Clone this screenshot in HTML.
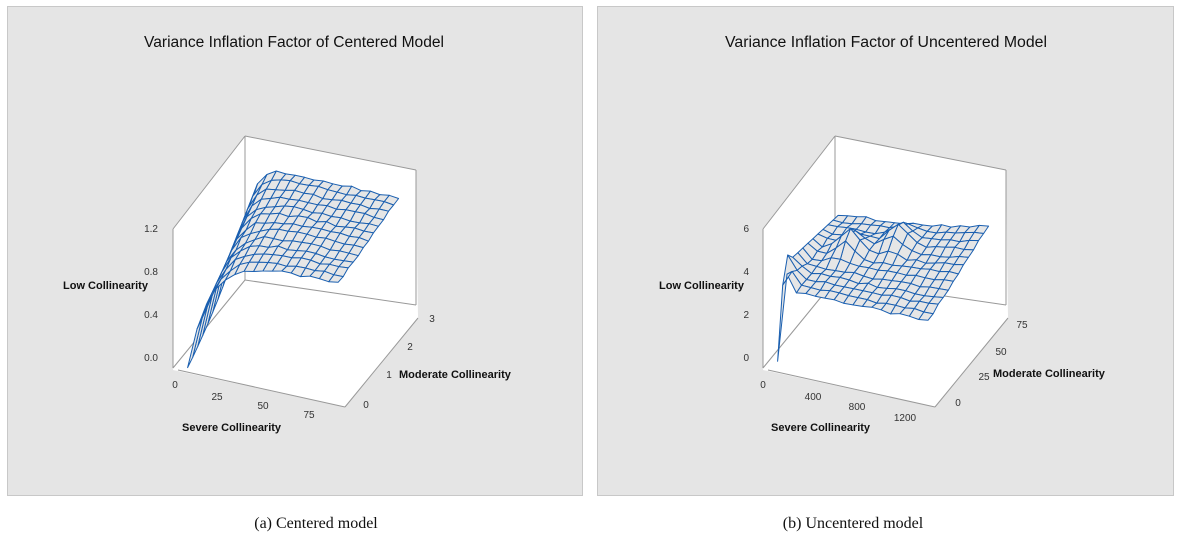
<!DOCTYPE html>
<html><head><meta charset="utf-8"><style>
body{margin:0;background:#fff;width:1178px;height:537px;overflow:hidden;font-family:"Liberation Sans",sans-serif}
svg{position:absolute;left:0;top:0}
</style></head><body>
<svg id="s" width="1178" height="537" xmlns="http://www.w3.org/2000/svg" font-family="Liberation Sans, sans-serif">
<rect x="7.5" y="6.5" width="575" height="489" fill="#e5e5e5" stroke="#c8c8c8"/>
<rect x="597.5" y="6.5" width="576" height="489" fill="#e5e5e5" stroke="#c8c8c8"/>
<g id="box0"></g><g id="box1"></g>
<g font-size="15.5" fill="#111" text-anchor="middle">
<text x="294" y="47" textLength="300" lengthAdjust="spacingAndGlyphs">Variance Inflation Factor of Centered Model</text>
<text x="886" y="47" textLength="322" lengthAdjust="spacingAndGlyphs">Variance Inflation Factor of Uncentered Model</text>
</g>
<g font-size="10" fill="#333" text-anchor="end">
<text x="158" y="232">1.2</text><text x="158" y="275">0.8</text><text x="158" y="318">0.4</text><text x="158" y="361">0.0</text>
<text x="749" y="232">6</text><text x="749" y="275">4</text><text x="749" y="318">2</text><text x="749" y="361">0</text>
</g>
<g font-size="10" fill="#333" text-anchor="middle">
<text x="175" y="388">0</text><text x="217" y="400">25</text><text x="263" y="409">50</text><text x="309" y="418">75</text>
<text x="366" y="408">0</text><text x="389" y="378">1</text><text x="410" y="350">2</text><text x="432" y="322">3</text>
<text x="763" y="388">0</text><text x="813" y="400">400</text><text x="857" y="410">800</text><text x="905" y="421">1200</text>
<text x="958" y="406">0</text><text x="984" y="380">25</text><text x="1001" y="355">50</text><text x="1022" y="328">75</text>
</g>
<g font-size="11" font-weight="bold" fill="#111">
<text x="63" y="289">Low Collinearity</text>
<text x="182" y="431">Severe Collinearity</text>
<text x="399" y="378">Moderate Collinearity</text>
<text x="659" y="289">Low Collinearity</text>
<text x="771" y="431">Severe Collinearity</text>
<text x="993" y="377">Moderate Collinearity</text>
</g>
<g font-family="Liberation Serif, serif" font-size="16" fill="#111" text-anchor="middle">
<text x="316" y="528">(a) Centered model</text>
<text x="853" y="528">(b) Uncentered model</text>
</g>
</svg>
<script>
var NS="http://www.w3.org/2000/svg";
function el(g,t,a){var e=document.createElementNS(NS,t);for(var k in a)e.setAttribute(k,a[k]);g.appendChild(e);return e;}
function draw(id,dx,zf){
 var g=document.getElementById(id);
 function X(x){return x+dx;}
 el(g,"polygon",{points:[[173,229],[245,136],[416,170],[418,318],[345,407],[173,370]].map(function(p){return X(p[0])+","+p[1]}).join(" "),fill:"#fff"});
 var L=[[245,136,245,280],[245,136,416,170],[416,170,416,305],[245,280,416,305],[173,229,245,136],[173,229,173,368],[173,368,245,280],[178,370,345,407],[345,407,418,318]];
 L.forEach(function(l){el(g,"line",{x1:X(l[0]),y1:l[1],x2:X(l[2]),y2:l[3],stroke:"#999","stroke-width":1});});
 function P(u,v,z){return [X(173+172*u+72*v),368+39*u-88*v-z];}
 var NU=16,NV=12,u0=0.085,u1=0.96,v0=0.0,v1=0.84;
 var pts=[];
 for(var i=0;i<=NU;i++){pts[i]=[];for(var j=0;j<=NV;j++){
   var u=u0+(u1-u0)*i/NU,v=v0+(v1-v0)*j/NV;
   pts[i][j]=P(u,v,zf(i,j,u,v));}}
 for(var j=NV-1;j>=0;j--)for(var i=NU-1;i>=0;i--){
   var a=pts[i][j],b=pts[i+1][j],c=pts[i+1][j+1],d=pts[i][j+1];
   el(g,"polygon",{points:[a,b,c,d].map(function(p){return p[0].toFixed(1)+","+p[1].toFixed(1)}).join(" "),fill:"#e6e6e6",stroke:"#1a5fb0","stroke-width":1,"stroke-linejoin":"round"});
 }
}
function rnd(i,j){var s=Math.sin(i*12.9898+j*78.233)*43758.5453;return s-Math.floor(s);}
draw("box0",0,function(i,j,u,v){
  var H=122+14*v; var s=0.13-0.09*v;
  var t=(i/16)*(0.96-0.085); var f=1-Math.exp(-(t+0.004+0.06*v)/s);
  return H*f+(i>2?(rnd(i,j)-0.5)*3:0);
});
draw("box1",590,function(i,j,u,v){
  var H=84+24*Math.pow(u,2)*v/0.84;
  var z=H+(rnd(i,j)-0.5)*3;
  if(i==0)z=j==0?10:(j==1?80:(j==2?104:100-j*1.5));
  if(i==1&&j<4)z+=14-j*3;
  var b1=Math.exp(-(Math.pow(i-4,2)/2+Math.pow(j-7,2)/3));
  var b2=Math.exp(-(Math.pow(i-8,2)/2+Math.pow(j-9,2)/3));
  z+=22*b1+20*b2;
  return z;
});
</script>
</body></html>
